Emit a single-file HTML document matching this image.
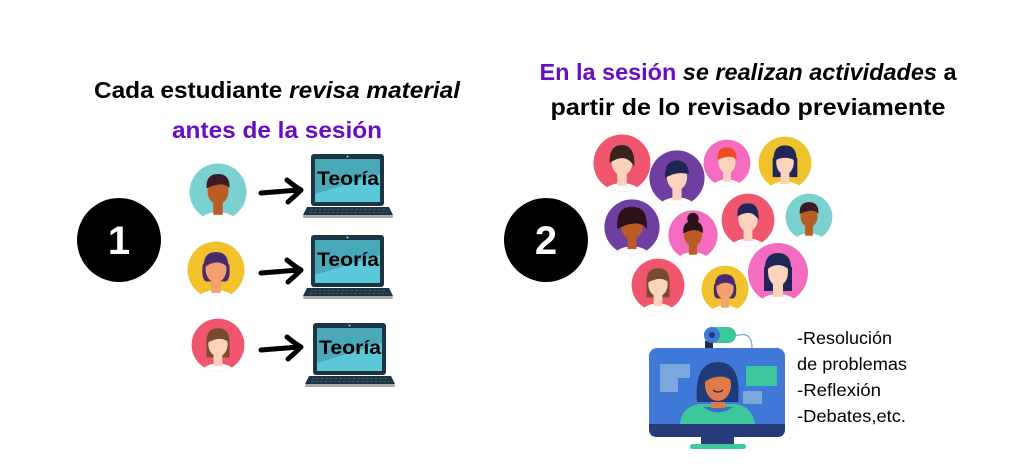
<!DOCTYPE html>
<html><head><meta charset="utf-8"><style>
html,body{margin:0;padding:0;background:#fff;width:1023px;height:464px;overflow:hidden}
svg{display:block}
text{font-family:"Liberation Sans",sans-serif}
</style></head><body>
<svg width="1023" height="464" viewBox="0 0 1023 464">
<defs>
<clipPath id="c"><circle r="30"/></clipPath>
<g id="lap">
<rect x="7" y="0" width="73" height="52" rx="3" fill="#1d3442"/>
<rect x="11" y="5" width="65" height="43" fill="#5ac8d8"/>
<path d="M11,5 H76 V20 L11,40Z" fill="#4aa9b8"/>
<circle cx="43.5" cy="2.5" r="1" fill="#ccc"/>
<path d="M3,53 H85 L89,61 H-1Z" fill="#1d3442"/>
<rect x="-1" y="61" width="90" height="3" rx="1.5" fill="#aaa"/>
<g stroke="#3a5566" stroke-width="1.2"><line x1="6" y1="55.5" x2="82" y2="55.5" stroke-dasharray="3 1.5"/><line x1="5" y1="58.5" x2="84" y2="58.5" stroke-dasharray="3 1.5"/></g>
<text x="44" y="31" font-size="19" font-weight="bold" text-anchor="middle" fill="#000" font-family="DejaVu Sans" textLength="62" lengthAdjust="spacingAndGlyphs">Teoría</text>
</g>
<path id="arr" d="M0,5 L38,2 M26,-8 Q36,0 40,2 Q34,8 27,14" fill="none" stroke="#000" stroke-width="5" stroke-linecap="round" stroke-linejoin="round"/>
</defs>

<text x="277" y="98" font-size="23" font-weight="bold" text-anchor="middle" textLength="366" lengthAdjust="spacingAndGlyphs">Cada estudiante <tspan font-style="italic">revisa material</tspan></text>
<text x="277" y="138" font-size="23" font-weight="bold" text-anchor="middle" fill="#6a0cc4" textLength="210" lengthAdjust="spacingAndGlyphs">antes de la sesión</text>
<text x="748" y="80" font-size="23" font-weight="bold" text-anchor="middle" textLength="417" lengthAdjust="spacingAndGlyphs"><tspan fill="#6a0cc4">En la sesión</tspan> <tspan font-style="italic">se realizan actividades</tspan> a</text>
<text x="748" y="115" font-size="23" font-weight="bold" text-anchor="middle" textLength="395" lengthAdjust="spacingAndGlyphs">partir de lo revisado previamente</text>

<circle cx="119" cy="240" r="42" fill="#000"/>
<text x="119" y="254" font-size="40" font-weight="bold" fill="#fff" text-anchor="middle">1</text>
<circle cx="546" cy="240" r="42" fill="#000"/>
<text x="546" y="254" font-size="40" font-weight="bold" fill="#fff" text-anchor="middle">2</text>

<g transform="translate(218,192) scale(0.95)"><circle r="30" fill="#7ad1cf"/><g clip-path="url(#c)"><ellipse cy="33" rx="20" ry="12" fill="#fff"/><rect x="-5" y="8" width="10" height="16" fill="#b95c26"/><ellipse cy="-1" rx="11" ry="14" fill="#b95c26"/><path d="M-12,-4 Q-13,-19 0,-19 Q13,-19 12,-4 Q6,-12 -12,-4Z" fill="#3a1a24"/></g></g>
<g transform="translate(216,270) scale(0.95)"><circle r="30" fill="#f0c22c"/><g clip-path="url(#c)"><ellipse cy="33" rx="20" ry="12" fill="#fff"/><path d="M-14,-6 Q-16,14 -8,12 L8,12 Q16,14 14,-6Z" fill="#4a2a6e"/><rect x="-5" y="8" width="10" height="16" fill="#f5a070"/><ellipse cy="-1" rx="11" ry="14" fill="#f5a070"/><path d="M-13,-2 Q-14,-19 0,-19 Q14,-19 13,-2 Q2,-14 -13,-2Z" fill="#4a2a6e"/></g></g>
<g transform="translate(218,345) scale(0.88)"><circle r="30" fill="#f0566e"/><g clip-path="url(#c)"><ellipse cy="33" rx="20" ry="12" fill="#fff"/><path d="M-13,-6 L-13,14 L13,14 L13,-6Z" fill="#7a4a2e"/><rect x="-5" y="8" width="10" height="16" fill="#fbd3bd"/><ellipse cy="-1" rx="11" ry="14" fill="#fbd3bd"/><path d="M-13,-2 Q-14,-19 0,-19 Q14,-19 13,-2 Q4,-12 -13,-2Z" fill="#7a4a2e"/></g></g>

<use href="#arr" x="261" y="188"/>
<use href="#arr" x="261" y="268"/>
<use href="#arr" x="261" y="345"/>
<use href="#lap" x="304" y="154"/>
<use href="#lap" x="304" y="235"/>
<use href="#lap" x="306" y="323"/>

<g transform="translate(622,163) scale(0.95)"><circle r="30" fill="#f0566e"/><g clip-path="url(#c)"><ellipse cy="33" rx="20" ry="12" fill="#fff"/><rect x="-5" y="8" width="10" height="16" fill="#fbd3bd"/><ellipse cy="-1" rx="11" ry="14" fill="#fbd3bd"/><path d="M-13,0 Q-14,-19 0,-19 Q14,-19 13,4 Q4,-12 -13,0Z" fill="#3a2420"/></g></g>
<g transform="translate(677,178) scale(0.92)"><circle r="30" fill="#6e3fa0"/><g clip-path="url(#c)"><ellipse cy="33" rx="20" ry="12" fill="#fff"/><rect x="-5" y="8" width="10" height="16" fill="#fbd3bd"/><ellipse cy="-1" rx="11" ry="14" fill="#fbd3bd"/><path d="M-13,0 Q-14,-19 0,-19 Q14,-19 13,0 L13,-4 Q0,-8 -13,0Z" fill="#1e2756"/></g></g>
<g transform="translate(727,163) scale(0.78)"><circle r="30" fill="#f36cc0"/><g clip-path="url(#c)"><ellipse cy="33" rx="20" ry="12" fill="#fff"/><rect x="-5" y="8" width="10" height="16" fill="#fbd3bd"/><ellipse cy="-1" rx="11" ry="14" fill="#fbd3bd"/><path d="M-12,-4 Q-13,-20 0,-20 Q13,-20 12,-4 Q6,-12 -12,-4Z" fill="#f04a22"/></g></g>
<g transform="translate(785,163) scale(0.88)"><circle r="30" fill="#f0c22c"/><g clip-path="url(#c)"><ellipse cy="33" rx="20" ry="12" fill="#fff"/><path d="M-14,-6 L-14,16 L14,16 L14,-6Z" fill="#1e2756"/><rect x="-5" y="8" width="10" height="16" fill="#fbd3bd"/><ellipse cy="-1" rx="10" ry="14" fill="#fbd3bd"/><path d="M-13,-2 Q-14,-20 0,-20 Q14,-20 13,-2 Q0,-10 -13,-2Z" fill="#1e2756"/></g></g>
<g transform="translate(632,227) scale(0.92)"><circle r="30" fill="#6e3fa0"/><g clip-path="url(#c)"><ellipse cy="33" rx="20" ry="12" fill="#fff"/><rect x="-5" y="8" width="10" height="16" fill="#b95c26"/><ellipse cy="-1" rx="12" ry="14" fill="#b95c26"/><path d="M-16,2 Q-18,-22 0,-22 Q18,-22 16,2 Q8,-10 -16,2Z" fill="#2a1218"/></g></g>
<g transform="translate(693,235) scale(0.82)"><circle r="30" fill="#f36cc0"/><g clip-path="url(#c)"><ellipse cy="33" rx="20" ry="12" fill="#fff"/><rect x="-5" y="8" width="10" height="16" fill="#b95c26"/><ellipse cy="0" rx="11" ry="14" fill="#b95c26"/><circle cy="-20" r="7" fill="#2a1218"/><path d="M-12,-2 Q-13,-17 0,-17 Q13,-17 12,-2 Q4,-10 -12,-2Z" fill="#2a1218"/></g></g>
<g transform="translate(748,220) scale(0.88)"><circle r="30" fill="#f0566e"/><g clip-path="url(#c)"><ellipse cy="33" rx="20" ry="12" fill="#fff"/><rect x="-5" y="8" width="10" height="16" fill="#fbd3bd"/><ellipse cy="-1" rx="11" ry="14" fill="#fbd3bd"/><path d="M-12,-4 Q-13,-19 0,-19 Q13,-19 12,0 Q4,-14 -12,-4Z" fill="#1e2756"/></g></g>
<g transform="translate(809,217) scale(0.78)"><circle r="30" fill="#7ad1cf"/><g clip-path="url(#c)"><ellipse cy="33" rx="20" ry="12" fill="#fff"/><rect x="-5" y="8" width="10" height="16" fill="#b95c26"/><ellipse cy="-1" rx="11" ry="14" fill="#b95c26"/><path d="M-12,-4 Q-13,-19 0,-19 Q13,-19 12,-4 Q6,-12 -12,-4Z" fill="#3a1a24"/></g></g>
<g transform="translate(658,285) scale(0.88)"><circle r="30" fill="#f0566e"/><g clip-path="url(#c)"><ellipse cy="33" rx="20" ry="12" fill="#fff"/><path d="M-13,-6 L-13,14 L13,14 L13,-6Z" fill="#7a4a2e"/><rect x="-5" y="8" width="10" height="16" fill="#fbd3bd"/><ellipse cy="-1" rx="11" ry="14" fill="#fbd3bd"/><path d="M-13,-2 Q-14,-19 0,-19 Q14,-19 13,-2 Q4,-12 -13,-2Z" fill="#7a4a2e"/></g></g>
<g transform="translate(725,289) scale(0.78)"><circle r="30" fill="#f0c22c"/><g clip-path="url(#c)"><ellipse cy="33" rx="20" ry="12" fill="#fff"/><path d="M-14,-6 Q-16,14 -8,12 L8,12 Q16,14 14,-6Z" fill="#4a2a6e"/><rect x="-5" y="8" width="10" height="16" fill="#f5a070"/><ellipse cy="-1" rx="11" ry="14" fill="#f5a070"/><path d="M-13,-2 Q-14,-19 0,-19 Q14,-19 13,-2 Q2,-14 -13,-2Z" fill="#4a2a6e"/></g></g>
<g transform="translate(778,273) scale(1.0)"><circle r="30" fill="#f36cc0"/><g clip-path="url(#c)"><ellipse cy="33" rx="20" ry="12" fill="#fff"/><path d="M-14,-6 L-14,18 L14,18 L14,-6Z" fill="#1e2756"/><rect x="-5" y="8" width="10" height="16" fill="#fbd3bd"/><ellipse cy="-1" rx="10" ry="14" fill="#fbd3bd"/><path d="M-13,-2 Q-14,-20 0,-20 Q14,-20 13,-2 Q0,-14 -13,-2Z" fill="#1e2756"/></g></g>

<path d="M735,336 Q752,330 752,348" fill="none" stroke="#7aa6d8" stroke-width="1.2"/>
<rect x="705" y="341" width="8" height="8" fill="#1e2a4a"/>
<rect x="704" y="327" width="32" height="16" rx="8" fill="#3cc89c"/>
<circle cx="712" cy="335" r="8" fill="#3f78d6"/>
<circle cx="712" cy="335" r="3" fill="#1e3a7a"/>
<rect x="649" y="348" width="136" height="89" rx="8" fill="#3f78d6"/>
<path d="M649,424 H785 V429 Q785,437 777,437 H657 Q649,437 649,429Z" fill="#263c78"/>
<path d="M660,364 H690 V378 H678 V392 H660Z" fill="#7aa8dc"/>
<rect x="746" y="366" width="31" height="20" fill="#3cc89c"/>
<rect x="743" y="391" width="19" height="13" fill="#7aa8dc"/>
<path d="M680,424 Q682,406 700,404 H735 Q752,406 755,424Z" fill="#3cc89c"/>
<path d="M703,407 Q718,418 733,407Z" fill="#3f6fc8"/>
<rect x="711" y="394" width="14" height="14" fill="#e07a4a"/>
<path d="M697,402 Q694,362 718,362 Q742,362 738,402 Z" fill="#1e3a78"/>
<ellipse cx="718" cy="385" rx="13" ry="16" fill="#e07a4a"/>
<path d="M704,382 Q706,366 720,366 Q733,368 731,380 Q720,372 704,382Z" fill="#1e3a78"/>
<path d="M713,390 Q718,394 723,390" stroke="#1e2a4a" stroke-width="1.2" fill="none"/>
<rect x="701" y="437" width="33" height="8" fill="#263c78"/>
<rect x="690" y="444" width="56" height="5" rx="2.5" fill="#3cc89c"/>

<g font-size="17.5" fill="#000">
<text x="797" y="344" textLength="95" lengthAdjust="spacingAndGlyphs">-Resolución</text>
<text x="797" y="370" textLength="110" lengthAdjust="spacingAndGlyphs">de problemas</text>
<text x="797" y="396" textLength="84" lengthAdjust="spacingAndGlyphs">-Reflexión</text>
<text x="797" y="422" textLength="109" lengthAdjust="spacingAndGlyphs">-Debates,etc.</text>
</g>
</svg>
</body></html>
